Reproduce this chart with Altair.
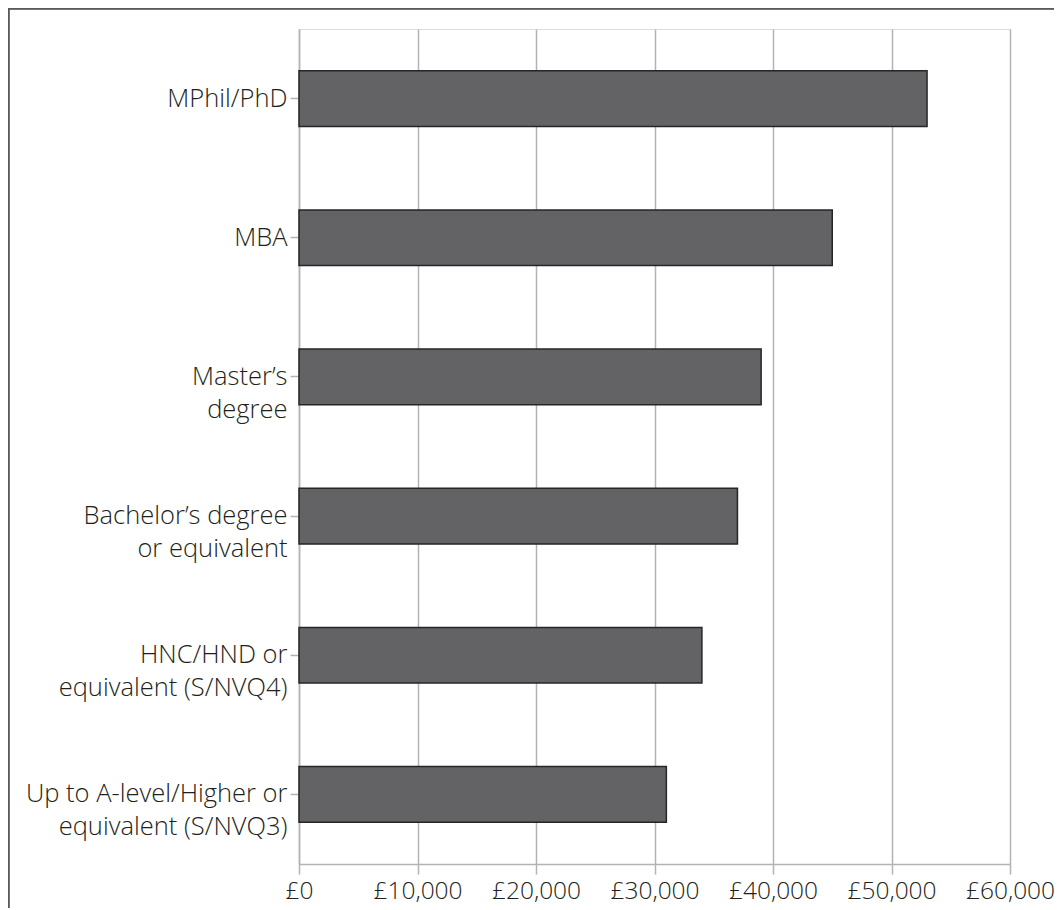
import altair as alt
import pandas as pd

categories = [
    "MPhil/PhD",
    "MBA",
    "Master\u2019s\ndegree",
    "Bachelor\u2019s degree\nor equivalent",
    "HNC/HND or\nequivalent (S/NVQ4)",
    "Up to A-level/Higher or\nequivalent (S/NVQ3)",
]
salaries = [53000, 45000, 39000, 37000, 34000, 31000]
x_ticks = [0, 10000, 20000, 30000, 40000, 50000, 60000]

df = pd.DataFrame({"qual": categories, "salary": salaries})

FONT = "Open Sans"
TXT = "#231f20"
GRID = "#b3b3b3"
FS = 24.5

bars = alt.Chart(df).mark_bar(
    color="#636365", stroke="#262626", strokeWidth=1.5
).encode(
    x=alt.X(
        "salary:Q",
        scale=alt.Scale(domain=[0, 60000], nice=False),
        axis=alt.Axis(
            values=x_ticks,
            labelExpr="'\u00a3' + format(datum.value, ',')",
            title=None,
            grid=True,
            gridColor=GRID,
            gridWidth=1.5,
            domainColor=GRID,
            domainWidth=1.5,
            tickColor=GRID,
            tickWidth=1.5,
            tickSize=10,
            labelFont=FONT,
            labelFontSize=FS,
            labelFontWeight=300,
            labelColor=TXT,
            labelPadding=5,
            labelFlush=False,
        ),
    ),
    y=alt.Y(
        "qual:N",
        sort=categories,
        scale=alt.Scale(paddingInner=0.6, paddingOuter=0.3),
        axis=alt.Axis(
            title=None,
            labelExpr="split(datum.label, '\\n')",
            labelFont=FONT,
            labelFontSize=25.5,
            labelFontWeight=300,
            labelColor=TXT,
            labelLineHeight=33,
            labelPadding=3,
            labelLimit=400,
            domainColor=GRID,
            domainWidth=1.5,
            tickColor=GRID,
            tickWidth=1.5,
            tickSize=9,
            grid=False,
        ),
    ),
)

frame_top = alt.Chart(df).mark_rule(color="#5a5a5a", strokeWidth=1.5).encode(
    x=alt.value(-290.5), x2=alt.value(800), y=alt.value(-20.5)
)
frame_left = alt.Chart(df).mark_rule(color="#5a5a5a", strokeWidth=1.5).encode(
    x=alt.value(-290.5), y=alt.value(-20.5), y2=alt.value(900)
)

chart = (
    alt.layer(bars, frame_top, frame_left)
    .properties(
        width=711,
        height=835,
        autosize=alt.AutoSizeParams(type="none"),
        padding={"left": 291, "top": 21, "right": 44, "bottom": 44},
    )
    .configure_view(stroke=GRID, strokeWidth=1.5)
    .configure(background="white")
)

chart.save("out.html", embed_options={"renderer": "svg", "actions": False})
